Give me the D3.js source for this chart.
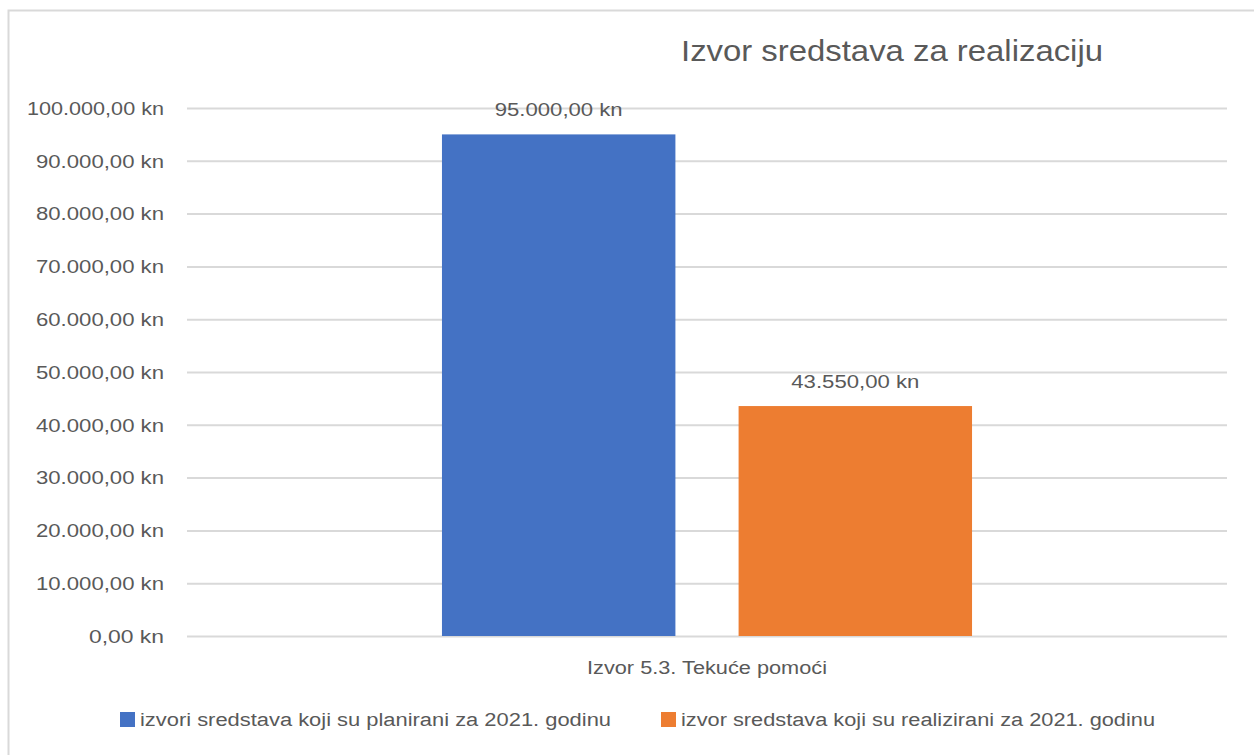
<!DOCTYPE html>
<html><head><meta charset="utf-8">
<script src="https://cdn.jsdelivr.net/npm/d3@7"></script>
<style>body{margin:0;background:#fff}svg{display:block}text{font-family:"Liberation Sans",Arial,sans-serif;fill:#595959}</style>
</head><body><svg id="c" width="1254" height="755"></svg>
<script>
const title = "Izvor sredstava za realizaciju";
const categories = ["Izvor 5.3. Tekuće pomoći"];
const seriesNames = ["izvori sredstava koji su planirani za 2021. godinu", "izvor sredstava koji su realizirani za 2021. godinu"];
const seriesValues = [95000, 43550];
const seriesColors = ["#4472c4", "#ed7d31"];
const yTicks = [0,10000,20000,30000,40000,50000,60000,70000,80000,90000,100000];

const fmt = v => d3.format(",.2f")(v).replace(/,/g,"X").replace(/\./g,",").replace(/X/g,".") + " kn";
const svg = d3.select("#c");
const W = 1254, H = 755;
const m = {left:187, right:1227, top:108, bottom:636};

function fit(sel, w){ sel.each(function(){ const n=this.getComputedTextLength(); if(Math.abs(n-w)>1){ d3.select(this).attr("textLength", w).attr("lengthAdjust","spacingAndGlyphs"); } }); }

// chart border
svg.append("path").attr("d", `M8.5,${H} V10.5 H${W}`).attr("fill","none").attr("stroke","#d9d9d9").attr("stroke-width",2);

const y = d3.scaleLinear().domain([0,100000]).range([m.bottom, m.top]);
const x0 = d3.scaleBand().domain(categories).range([m.left, m.right]).paddingInner(0).paddingOuter(0.481);
const x1 = d3.scaleBand().domain(seriesNames).range([0, x0.bandwidth()]).paddingInner(0.213);

// gridlines
const yAxis = d3.axisLeft(y).tickValues(yTicks).tickSize(-(m.right-m.left)).tickFormat(fmt).tickPadding(23);
const ga = svg.append("g").attr("transform",`translate(${m.left},0)`).call(yAxis);
ga.select(".domain").remove();
ga.selectAll(".tick line").attr("stroke","#d9d9d9").attr("stroke-width",2);
ga.selectAll(".tick text").attr("font-size",18).style("fill","#595959").attr("dy","0.35em");
ga.selectAll(".tick text").each(function(d){ const w = d===0?75: d<100000?128:137; fit(d3.select(this), w); });

// bars
const g = svg.append("g").attr("transform",`translate(${x0(categories[0])},0)`);
g.selectAll("rect").data(seriesValues).join("rect")
  .attr("x",(d,i)=>x1(seriesNames[i])).attr("width",x1.bandwidth())
  .attr("y",d=>y(d)).attr("height",d=>y(0)-y(d)).attr("fill",(d,i)=>seriesColors[i]);
g.selectAll("text.lbl").data(seriesValues).join("text").attr("class","lbl")
  .attr("x",(d,i)=>x1(seriesNames[i])+x1.bandwidth()/2).attr("y",d=>y(d)-18)
  .attr("text-anchor","middle").attr("font-size",18).text(fmt)
  .each(function(){ fit(d3.select(this),128); });

// category label
svg.append("text").attr("x", x0(categories[0])+x0.bandwidth()/2).attr("y",674).attr("text-anchor","middle")
  .attr("font-size",18).text(categories[0]).call(fit,240);

// title
svg.append("text").attr("x",892).attr("y",61).attr("text-anchor","middle").attr("font-size",29).text(title).call(fit,422);

// legend
const legX = [120, 661], legW = [471, 474];
const lg = svg.append("g").selectAll("g").data(seriesNames).join("g");
lg.append("rect").attr("x",(d,i)=>legX[i]).attr("y",712).attr("width",15).attr("height",15).attr("fill",(d,i)=>seriesColors[i]);
lg.append("text").attr("x",(d,i)=>legX[i]+20).attr("y",726).attr("font-size",18).text(d=>d)
  .each(function(d,i){ fit(d3.select(this), legW[i]); });
</script></body></html>
